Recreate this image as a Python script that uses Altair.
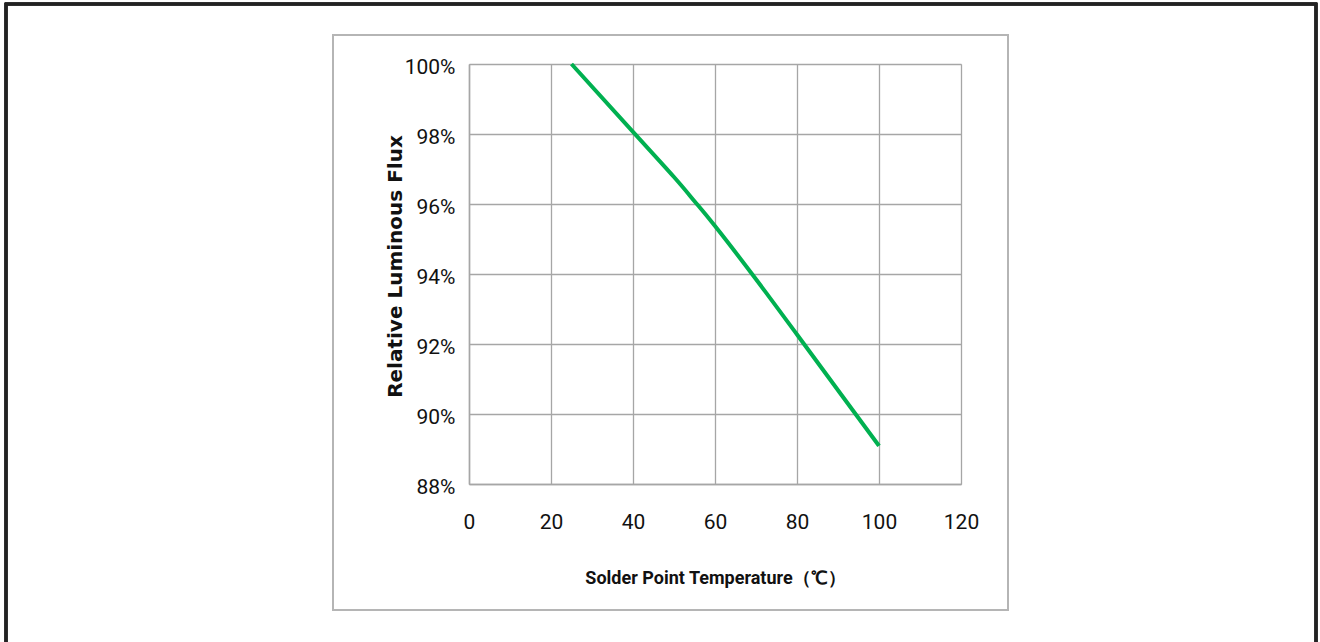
import altair as alt
import pandas as pd

temps = [25, 40, 50, 55, 60, 70, 80, 90, 100]
flux = [100.0, 98.06, 96.77, 96.08, 95.37, 93.85, 92.27, 90.68, 89.09]

df = pd.DataFrame({"t": temps, "f": [v / 100 for v in flux]})

W, H = 492, 420
L, T = 469, 64
LABEL_FONT = "Roboto, Liberation Sans, sans-serif"

line = alt.Chart(df).mark_line(color="#00b050", strokeWidth=4, interpolate="natural").encode(
    x=alt.X("t:Q", scale=alt.Scale(domain=[0, 120], nice=False),
            axis=alt.Axis(values=[0, 20, 40, 60, 80, 100, 120], grid=True, gridColor="#a6a6a6",
                          gridWidth=1.3, ticks=False, domain=True, domainColor="#a6a6a6", domainWidth=1.5,
                          labelFlush=False,
                          labelFont=LABEL_FONT, labelFontSize=21, labelColor="#111", labelPadding=27,
                          title="Solder Point Temperature（℃）", titleFont=LABEL_FONT, titleFontSize=18,
                          titleFontWeight="bold", titleColor="#111", titlePadding=37)),
    y=alt.Y("f:Q", scale=alt.Scale(domain=[0.88, 1.0], nice=False),
            axis=alt.Axis(values=[0.88, 0.90, 0.92, 0.94, 0.96, 0.98, 1.0], format=".0%", grid=True,
                          gridColor="#a6a6a6", gridWidth=1.3, ticks=False, domain=True,
                          domainColor="#a6a6a6", domainWidth=1.5, labelFlush=False,
                          labelFont=LABEL_FONT, labelFontSize=21, labelColor="#111", labelPadding=14,
                          labelBaseline="middle", labelOffset=3,
                          title="Relative Luminous Flux", titleFont="DejaVu Sans", titleFontSize=20,
                          titleFontWeight="bold", titleColor="#111",
                          titleX=-64, titleY=202)),
)

outer = alt.Chart(df).mark_rect(fill="transparent", stroke="#222", strokeWidth=2.5).encode(
    x=alt.value(6 - L), x2=alt.value(1316 - L), y=alt.value(4 - T), y2=alt.value(700 - T)
)
inner = alt.Chart(df).mark_rect(fill="transparent", stroke="#b5b5b5", strokeWidth=1.5).encode(
    x=alt.value(333 - L), x2=alt.value(1008 - L), y=alt.value(35 - T), y2=alt.value(610 - T)
)

chart = alt.layer(outer, inner, line).properties(
    width=W, height=H,
    autosize=alt.AutoSizeParams(type="none"),
    padding={"left": L, "top": T, "right": 1320 - L - W, "bottom": 642 - T - H},
).configure_view(stroke=None).configure(background="white")

chart.save("out.html", embed_options={"renderer": "svg", "actions": False})
